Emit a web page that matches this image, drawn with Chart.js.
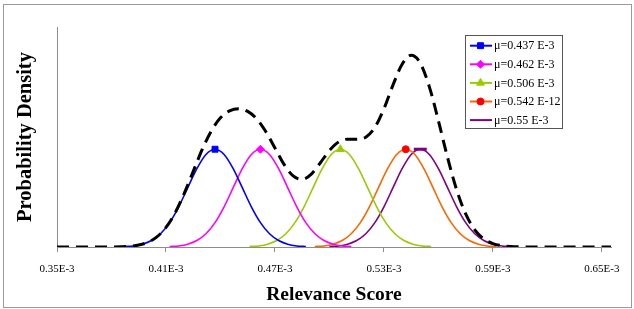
<!DOCTYPE html>
<html>
<head>
<meta charset="utf-8">
<script src="https://cdn.jsdelivr.net/npm/chart.js@4.4.1/dist/chart.umd.min.js"></script>
<style>
  html, body { margin: 0; padding: 0; background: #fff; }
  #wrap { position: relative; width: 634px; height: 309px; }
  #frame { position: absolute; left: 3px; top: 4px; width: 627px; height: 302px; border: 1px solid #9a9a9a; pointer-events: none; }
  canvas { position: absolute; left: 0; top: 0; }
</style>
</head>
<body>
<div id="wrap">
  <canvas id="chart" width="634" height="309"></canvas>
  <div id="frame"></div>
</div>
<script>
// x values are in units of 1E-3
const tickValues = [0.35, 0.41, 0.47, 0.53, 0.59, 0.65];
const tickLabels = ['0.35E-3', '0.41E-3', '0.47E-3', '0.53E-3', '0.59E-3', '0.65E-3'];

const legendLabels = ['\u03bc=0.437 E-3', '\u03bc=0.462 E-3', '\u03bc=0.506 E-3', '\u03bc=0.542 E-12', '\u03bc=0.55 E-3'];

// bell profile shared by the five curves (peak height = 1)
const bellY = [0.004, 0.011, 0.029, 0.066, 0.135, 0.249, 0.411, 0.607, 0.801, 0.946, 1,
               0.946, 0.801, 0.607, 0.411, 0.249, 0.135, 0.066, 0.029, 0.011, 0.004];

const blueX = [0.387, 0.392, 0.397, 0.402, 0.407, 0.412, 0.417, 0.422, 0.427, 0.432, 0.437,
               0.442, 0.447, 0.452, 0.457, 0.462, 0.467, 0.472, 0.477, 0.482, 0.487];
const magentaX = [0.412, 0.417, 0.422, 0.427, 0.432, 0.437, 0.442, 0.447, 0.452, 0.457, 0.462,
                  0.467, 0.472, 0.477, 0.482, 0.487, 0.492, 0.497, 0.502, 0.507, 0.512];
const greenX = [0.456, 0.461, 0.466, 0.471, 0.476, 0.481, 0.486, 0.491, 0.496, 0.501, 0.506,
                0.511, 0.516, 0.521, 0.526, 0.531, 0.536, 0.541, 0.546, 0.551, 0.556];
const orangeX = [0.492, 0.497, 0.502, 0.507, 0.512, 0.517, 0.522, 0.527, 0.532, 0.537, 0.542,
                 0.547, 0.552, 0.557, 0.562, 0.567, 0.572, 0.577, 0.582, 0.587, 0.592];
const purpleX = [0.500, 0.505, 0.510, 0.515, 0.520, 0.525, 0.530, 0.535, 0.540, 0.545, 0.550,
                 0.555, 0.560, 0.565, 0.570, 0.575, 0.580, 0.585, 0.590, 0.595, 0.600];

// dashed envelope
const envX = [0.350, 0.355, 0.360, 0.365, 0.370, 0.375, 0.380, 0.385, 0.390, 0.395,
              0.400, 0.405, 0.410, 0.415, 0.420, 0.425, 0.430, 0.435, 0.440, 0.445,
              0.450, 0.455, 0.460, 0.465, 0.470, 0.475, 0.480, 0.485, 0.490, 0.495,
              0.500, 0.505, 0.510, 0.515, 0.520, 0.525, 0.530, 0.535, 0.540, 0.545,
              0.550, 0.555, 0.560, 0.565, 0.570, 0.575, 0.580, 0.585, 0.590, 0.595,
              0.600, 0.605, 0.610, 0.615, 0.620, 0.625, 0.630, 0.635, 0.640, 0.645,
              0.650, 0.655];
const envY = [0, 0, 0, 0, 0, 0.0002, 0.0007, 0.0025, 0.0074, 0.020,
              0.048, 0.103, 0.200, 0.348, 0.546, 0.774, 1.000, 1.189, 1.321, 1.393,
              1.414, 1.387, 1.309, 1.179, 1.012, 0.845, 0.727, 0.691, 0.746, 0.862,
              0.987, 1.073, 1.103, 1.101, 1.123, 1.223, 1.415, 1.658, 1.869, 1.960,
              1.881, 1.638, 1.290, 0.916, 0.586, 0.338, 0.175, 0.082, 0.035, 0.013,
              0.0045, 0.0014, 0.0003, 0, 0, 0, 0, 0, 0, 0,
              0, 0];

const PEAK = 10;
const serif = '"Liberation Serif", "Times New Roman", serif';

function pts(xs, ys) {
  return xs.map((x, i) => ({ x: x, y: ys[i] }));
}

function peakRadius(xs, r) {
  return xs.map((x, i) => (i === PEAK ? r : 0));
}

function curve(xs, color, markColor, style, r, bw) {
  return {
    data: pts(xs, bellY),
    borderColor: color,
    borderWidth: 1.6,
    showLine: true,
    tension: 0.4,
    cubicInterpolationMode: 'monotone',
    pointStyle: style,
    pointRadius: peakRadius(xs, r),
    pointHoverRadius: 0,
    pointBackgroundColor: markColor,
    pointBorderColor: markColor,
    pointBorderWidth: bw,
    order: 2
  };
}

const series = [
  curve(blueX, '#0000ff', '#0000ff', 'rect', 4.2, 1),
  curve(magentaX, '#ff00ff', '#ff00ff', 'rectRot', 4, 1),
  curve(greenX, '#99cc00', '#99cc00', 'triangle', 4.5, 1),
  curve(orangeX, '#ff6600', '#ff0000', 'circle', 3.5, 1),
  curve(purpleX, '#800080', '#800080', 'line', 6.5, 3)
];

const envelope = {
  data: pts(envX, envY),
  borderColor: '#000000',
  borderWidth: 3,
  borderDash: [12, 7],
  showLine: true,
  tension: 0.4,
  cubicInterpolationMode: 'monotone',
  pointRadius: 0,
  pointHoverRadius: 0,
  order: 1
};

const boxLegend = {
  id: 'boxLegend',
  afterDraw(chart) {
    const ctx = chart.ctx;
    ctx.save();
    ctx.strokeStyle = '#555555';
    ctx.lineWidth = 1;
    ctx.strokeRect(465.5, 35.5, 97, 93);
    ctx.font = '12px ' + serif;
    ctx.textBaseline = 'middle';
    ctx.fillStyle = '#000';
    series.forEach((s, i) => {
      const y = 45.7 + i * 18.6;
      ctx.strokeStyle = s.borderColor;
      ctx.lineWidth = 2;
      ctx.beginPath();
      ctx.moveTo(470, y);
      ctx.lineTo(492, y);
      ctx.stroke();
      ctx.fillStyle = s.pointBackgroundColor;
      ctx.strokeStyle = s.pointBorderColor;
      ctx.lineWidth = s.pointBorderWidth;
      Chart.helpers.drawPoint(ctx, {
        pointStyle: s.pointStyle,
        radius: s.pointStyle === 'line' ? 0 : s.pointRadius[PEAK],
        rotation: 0,
        borderWidth: s.pointBorderWidth
      }, 480.5, y);
      ctx.fillStyle = '#000';
      ctx.fillText(legendLabels[i], 494, y + 0.5);
    });
    ctx.restore();
  }
};

new Chart(document.getElementById('chart'), {
  type: 'scatter',
  data: { datasets: [envelope].concat(series) },
  options: {
    responsive: false,
    animation: false,
    events: [],
    layout: { padding: { top: 27, right: 23, left: 0, bottom: 0 } },
    plugins: {
      legend: { display: false },
      tooltip: { enabled: false }
    },
    scales: {
      x: {
        type: 'linear',
        min: 0.35,
        max: 0.655,
        afterFit: (scale) => { scale.height = 62; },
        afterBuildTicks: (scale) => { scale.ticks = tickValues.map(v => ({ value: v })); },
        ticks: {
          autoSkip: false,
          maxRotation: 0,
          padding: 11,
          color: '#000',
          font: { family: serif, size: 11 },
          callback: (v, i) => tickLabels[i]
        },
        grid: { display: true, drawOnChartArea: false, drawTicks: true, tickLength: 5, color: '#8c8c8c' },
        border: { display: true, color: '#8c8c8c', width: 1 },
        title: {
          display: true,
          text: 'Relevance Score',
          color: '#000',
          font: { family: serif, size: 19.5, weight: 'bold' },
          padding: { top: 0, bottom: 2 }
        }
      },
      y: {
        type: 'linear',
        min: 0,
        max: 2.25,
        afterFit: (scale) => { scale.width = 57; },
        ticks: { display: false },
        grid: { display: true, drawOnChartArea: false, drawTicks: false, color: '#8c8c8c' },
        border: { display: true, color: '#8c8c8c', width: 1 },
        title: {
          display: true,
          text: 'Probability Density',
          color: '#000',
          font: { family: serif, size: 20.5, weight: 'bold' },
          padding: { top: 13, bottom: 0 }
        }
      }
    }
  },
  plugins: [boxLegend]
});
</script>
</body>
</html>
